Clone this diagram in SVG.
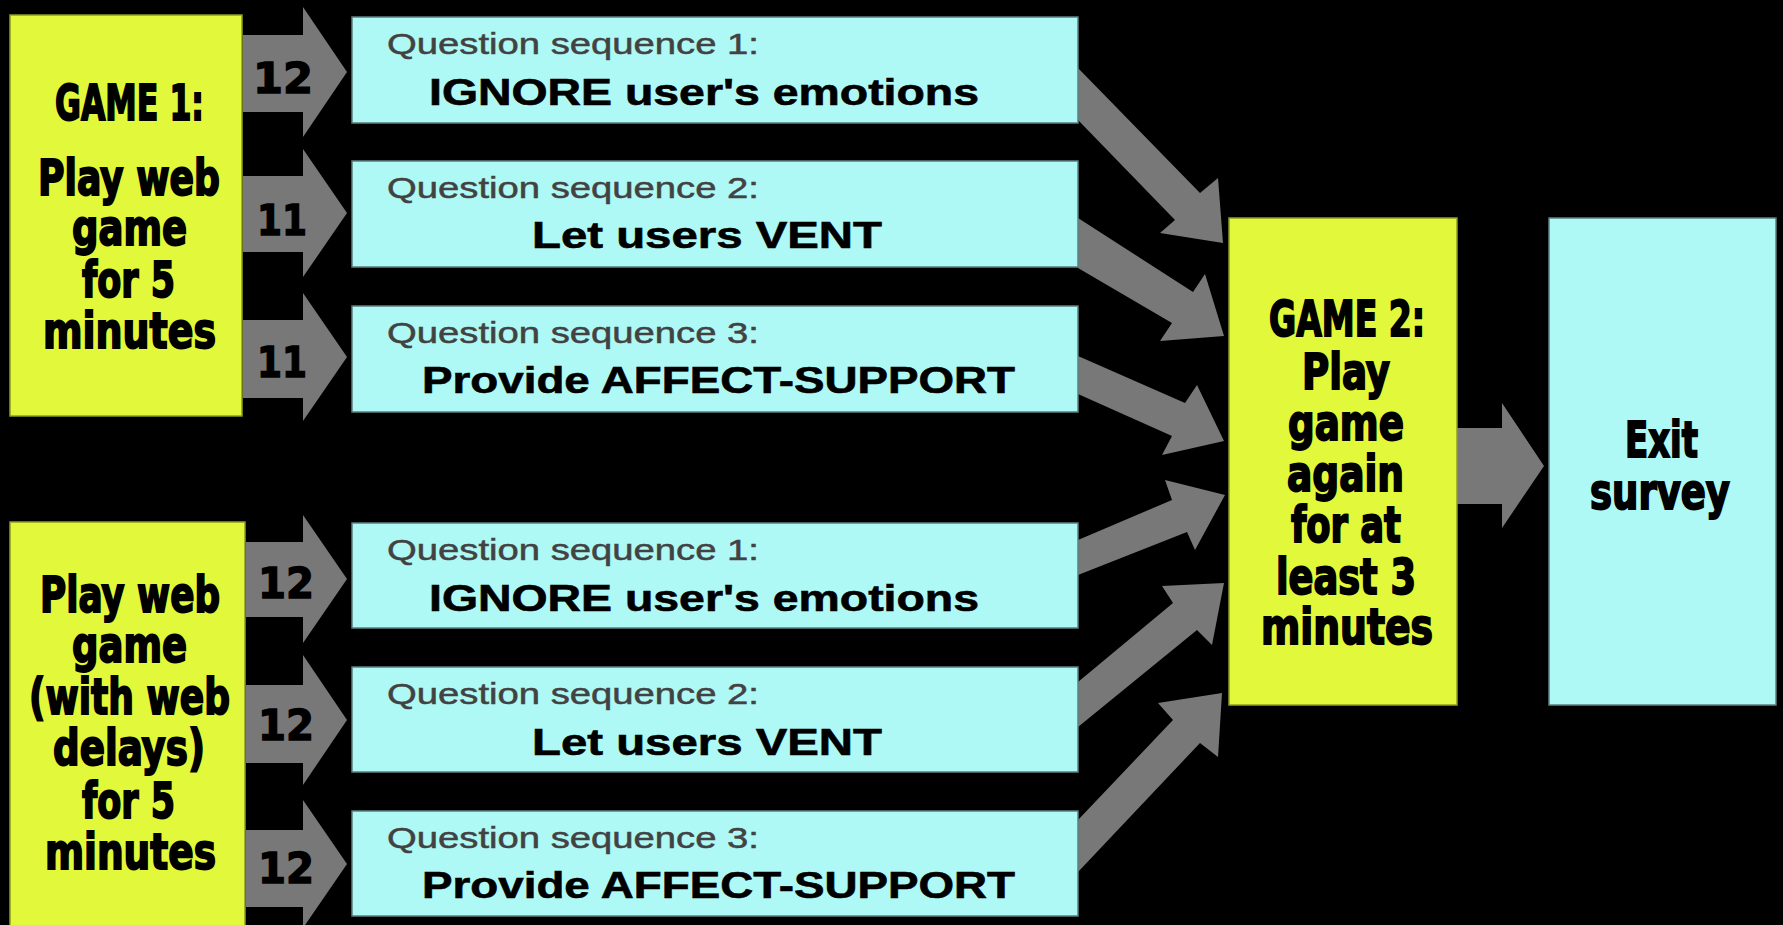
<svg xmlns="http://www.w3.org/2000/svg" width="1783" height="925" viewBox="0 0 1783 925">
  <style>
    .game { fill: #e2f83a; stroke: #8f9c25; stroke-width: 1.5; }
    .qbox { fill: #aef8f5; stroke: #5d7f80; stroke-width: 1.5; }
    .arrow { fill: #787878; }
    .big { font-family: "DejaVu Sans Condensed", "DejaVu Sans", sans-serif; font-weight: bold; font-size: 49px; fill: #000; stroke: #000; stroke-width: 1.8; }
    .num { font-family: "DejaVu Sans", sans-serif; font-weight: bold; font-size: 42px; fill: #000; stroke: #000; stroke-width: 1.4; }
    .qlabel { font-family: "Liberation Sans", Arial, sans-serif; font-size: 30px; fill: #424242; stroke: #424242; stroke-width: 0.5; }
    .qmain { font-family: "Liberation Sans", Arial, sans-serif; font-weight: bold; font-size: 36px; fill: #000; stroke: #000; stroke-width: 0.6; }
  </style>
  <rect x="0" y="0" width="1783" height="925" fill="#000"/>

  <!-- block arrows -->
  <g id="connectors">
    <!-- game 1 to question sequences -->
    <polygon class="arrow" points="243,35 303,35 303,7 347,72 303,137 303,112 243,112"/>
    <polygon class="arrow" points="243,176 303,176 303,149 347,213 303,277 303,252 243,252"/>
    <polygon class="arrow" points="243,320 303,320 303,293 347,357 303,421 303,398 243,398"/>
    <!-- delayed game to question sequences -->
    <polygon class="arrow" points="246,542 303,542 303,515 347,579 303,643 303,617 246,617"/>
    <polygon class="arrow" points="246,685 303,685 303,655 347,720 303,785 303,763 246,763"/>
    <polygon class="arrow" points="246,830 303,830 303,800 347,864 303,928 303,907 246,907"/>
    <!-- question sequences to game 2 -->
    <polygon class="arrow" points="1078,68 1200,193 1218,178 1223,243 1160,233 1175,220 1078,120"/>
    <polygon class="arrow" points="1078,218 1193,292 1205,274 1224,336 1160,341 1172,323 1078,268"/>
    <polygon class="arrow" points="1078,356 1185,403 1197,385 1224,441 1162,455 1172,436 1078,394"/>
    <polygon class="arrow" points="1078,540 1172,500 1165,480 1225,495 1195,550 1187,532 1078,575"/>
    <polygon class="arrow" points="1078,682 1173,603 1162,586 1224,583 1212,645 1197,630 1078,727"/>
    <polygon class="arrow" points="1078,820 1173,720 1158,703 1222,693 1218,757 1200,743 1078,872"/>
    <!-- game 2 to exit survey -->
    <polygon class="arrow" points="1457,428 1502,428 1502,403 1544,466 1502,528 1502,504 1457,504"/>
    <!-- counts -->
    <text class="num" x="253" y="93" textLength="60" lengthAdjust="spacingAndGlyphs">12</text>
    <text class="num" x="257" y="235" textLength="50" lengthAdjust="spacingAndGlyphs">11</text>
    <text class="num" x="257" y="377" textLength="50" lengthAdjust="spacingAndGlyphs">11</text>
    <text class="num" x="258" y="598" textLength="56" lengthAdjust="spacingAndGlyphs">12</text>
    <text class="num" x="258" y="740" textLength="56" lengthAdjust="spacingAndGlyphs">12</text>
    <text class="num" x="258" y="883" textLength="56" lengthAdjust="spacingAndGlyphs">12</text>
  </g>

  <g id="game1">
    <rect class="game" x="10" y="15" width="232" height="401"/>
    <text class="big" x="55" y="120" textLength="149" lengthAdjust="spacingAndGlyphs">GAME 1:</text>
    <text class="big" x="38" y="195" textLength="182" lengthAdjust="spacingAndGlyphs">Play web</text>
    <text class="big" x="72" y="245" textLength="115" lengthAdjust="spacingAndGlyphs">game</text>
    <text class="big" x="82" y="297" textLength="93" lengthAdjust="spacingAndGlyphs">for 5</text>
    <text class="big" x="43" y="348" textLength="173" lengthAdjust="spacingAndGlyphs">minutes</text>
  </g>

  <g id="game1-delays">
    <rect class="game" x="10" y="522" width="235" height="410"/>
    <text class="big" x="40" y="612" textLength="180" lengthAdjust="spacingAndGlyphs">Play web</text>
    <text class="big" x="72" y="662" textLength="115" lengthAdjust="spacingAndGlyphs">game</text>
    <text class="big" x="29" y="714" textLength="201" lengthAdjust="spacingAndGlyphs">(with web</text>
    <text class="big" x="53" y="765" textLength="152" lengthAdjust="spacingAndGlyphs">delays)</text>
    <text class="big" x="82" y="818" textLength="93" lengthAdjust="spacingAndGlyphs">for 5</text>
    <text class="big" x="45" y="869" textLength="171" lengthAdjust="spacingAndGlyphs">minutes</text>
  </g>

  <g id="q1-top">
    <rect class="qbox" x="352" y="17" width="726" height="106"/>
    <text class="qlabel" x="387" y="54" textLength="372" lengthAdjust="spacingAndGlyphs">Question sequence 1:</text>
    <text class="qmain" x="429" y="105" textLength="550" lengthAdjust="spacingAndGlyphs">IGNORE user's emotions</text>
  </g>
  <g id="q2-top">
    <rect class="qbox" x="352" y="161" width="726" height="106"/>
    <text class="qlabel" x="387" y="198" textLength="372" lengthAdjust="spacingAndGlyphs">Question sequence 2:</text>
    <text class="qmain" x="532" y="248" textLength="350" lengthAdjust="spacingAndGlyphs">Let users VENT</text>
  </g>
  <g id="q3-top">
    <rect class="qbox" x="352" y="306" width="726" height="106"/>
    <text class="qlabel" x="387" y="343" textLength="372" lengthAdjust="spacingAndGlyphs">Question sequence 3:</text>
    <text class="qmain" x="422" y="393" textLength="593" lengthAdjust="spacingAndGlyphs">Provide AFFECT-SUPPORT</text>
  </g>

  <g id="q1-bottom">
    <rect class="qbox" x="352" y="523" width="726" height="105"/>
    <text class="qlabel" x="387" y="560" textLength="372" lengthAdjust="spacingAndGlyphs">Question sequence 1:</text>
    <text class="qmain" x="429" y="611" textLength="550" lengthAdjust="spacingAndGlyphs">IGNORE user's emotions</text>
  </g>
  <g id="q2-bottom">
    <rect class="qbox" x="352" y="667" width="726" height="105"/>
    <text class="qlabel" x="387" y="704" textLength="372" lengthAdjust="spacingAndGlyphs">Question sequence 2:</text>
    <text class="qmain" x="532" y="755" textLength="350" lengthAdjust="spacingAndGlyphs">Let users VENT</text>
  </g>
  <g id="q3-bottom">
    <rect class="qbox" x="352" y="811" width="726" height="105"/>
    <text class="qlabel" x="387" y="848" textLength="372" lengthAdjust="spacingAndGlyphs">Question sequence 3:</text>
    <text class="qmain" x="422" y="898" textLength="593" lengthAdjust="spacingAndGlyphs">Provide AFFECT-SUPPORT</text>
  </g>

  <g id="game2">
    <rect class="game" x="1229" y="218" width="228" height="487"/>
    <text class="big" x="1269" y="336" textLength="156" lengthAdjust="spacingAndGlyphs">GAME 2:</text>
    <text class="big" x="1302" y="389" textLength="88" lengthAdjust="spacingAndGlyphs">Play</text>
    <text class="big" x="1288" y="440" textLength="116" lengthAdjust="spacingAndGlyphs">game</text>
    <text class="big" x="1287" y="491" textLength="117" lengthAdjust="spacingAndGlyphs">again</text>
    <text class="big" x="1291" y="542" textLength="110" lengthAdjust="spacingAndGlyphs">for at</text>
    <text class="big" x="1276" y="594" textLength="140" lengthAdjust="spacingAndGlyphs">least 3</text>
    <text class="big" x="1261" y="644" textLength="172" lengthAdjust="spacingAndGlyphs">minutes</text>
  </g>

  <g id="exit-survey">
    <rect class="qbox" x="1549" y="218" width="227" height="487"/>
    <text class="big" x="1625" y="457" textLength="73" lengthAdjust="spacingAndGlyphs">Exit</text>
    <text class="big" x="1590" y="509" textLength="140" lengthAdjust="spacingAndGlyphs">survey</text>
  </g>
</svg>
